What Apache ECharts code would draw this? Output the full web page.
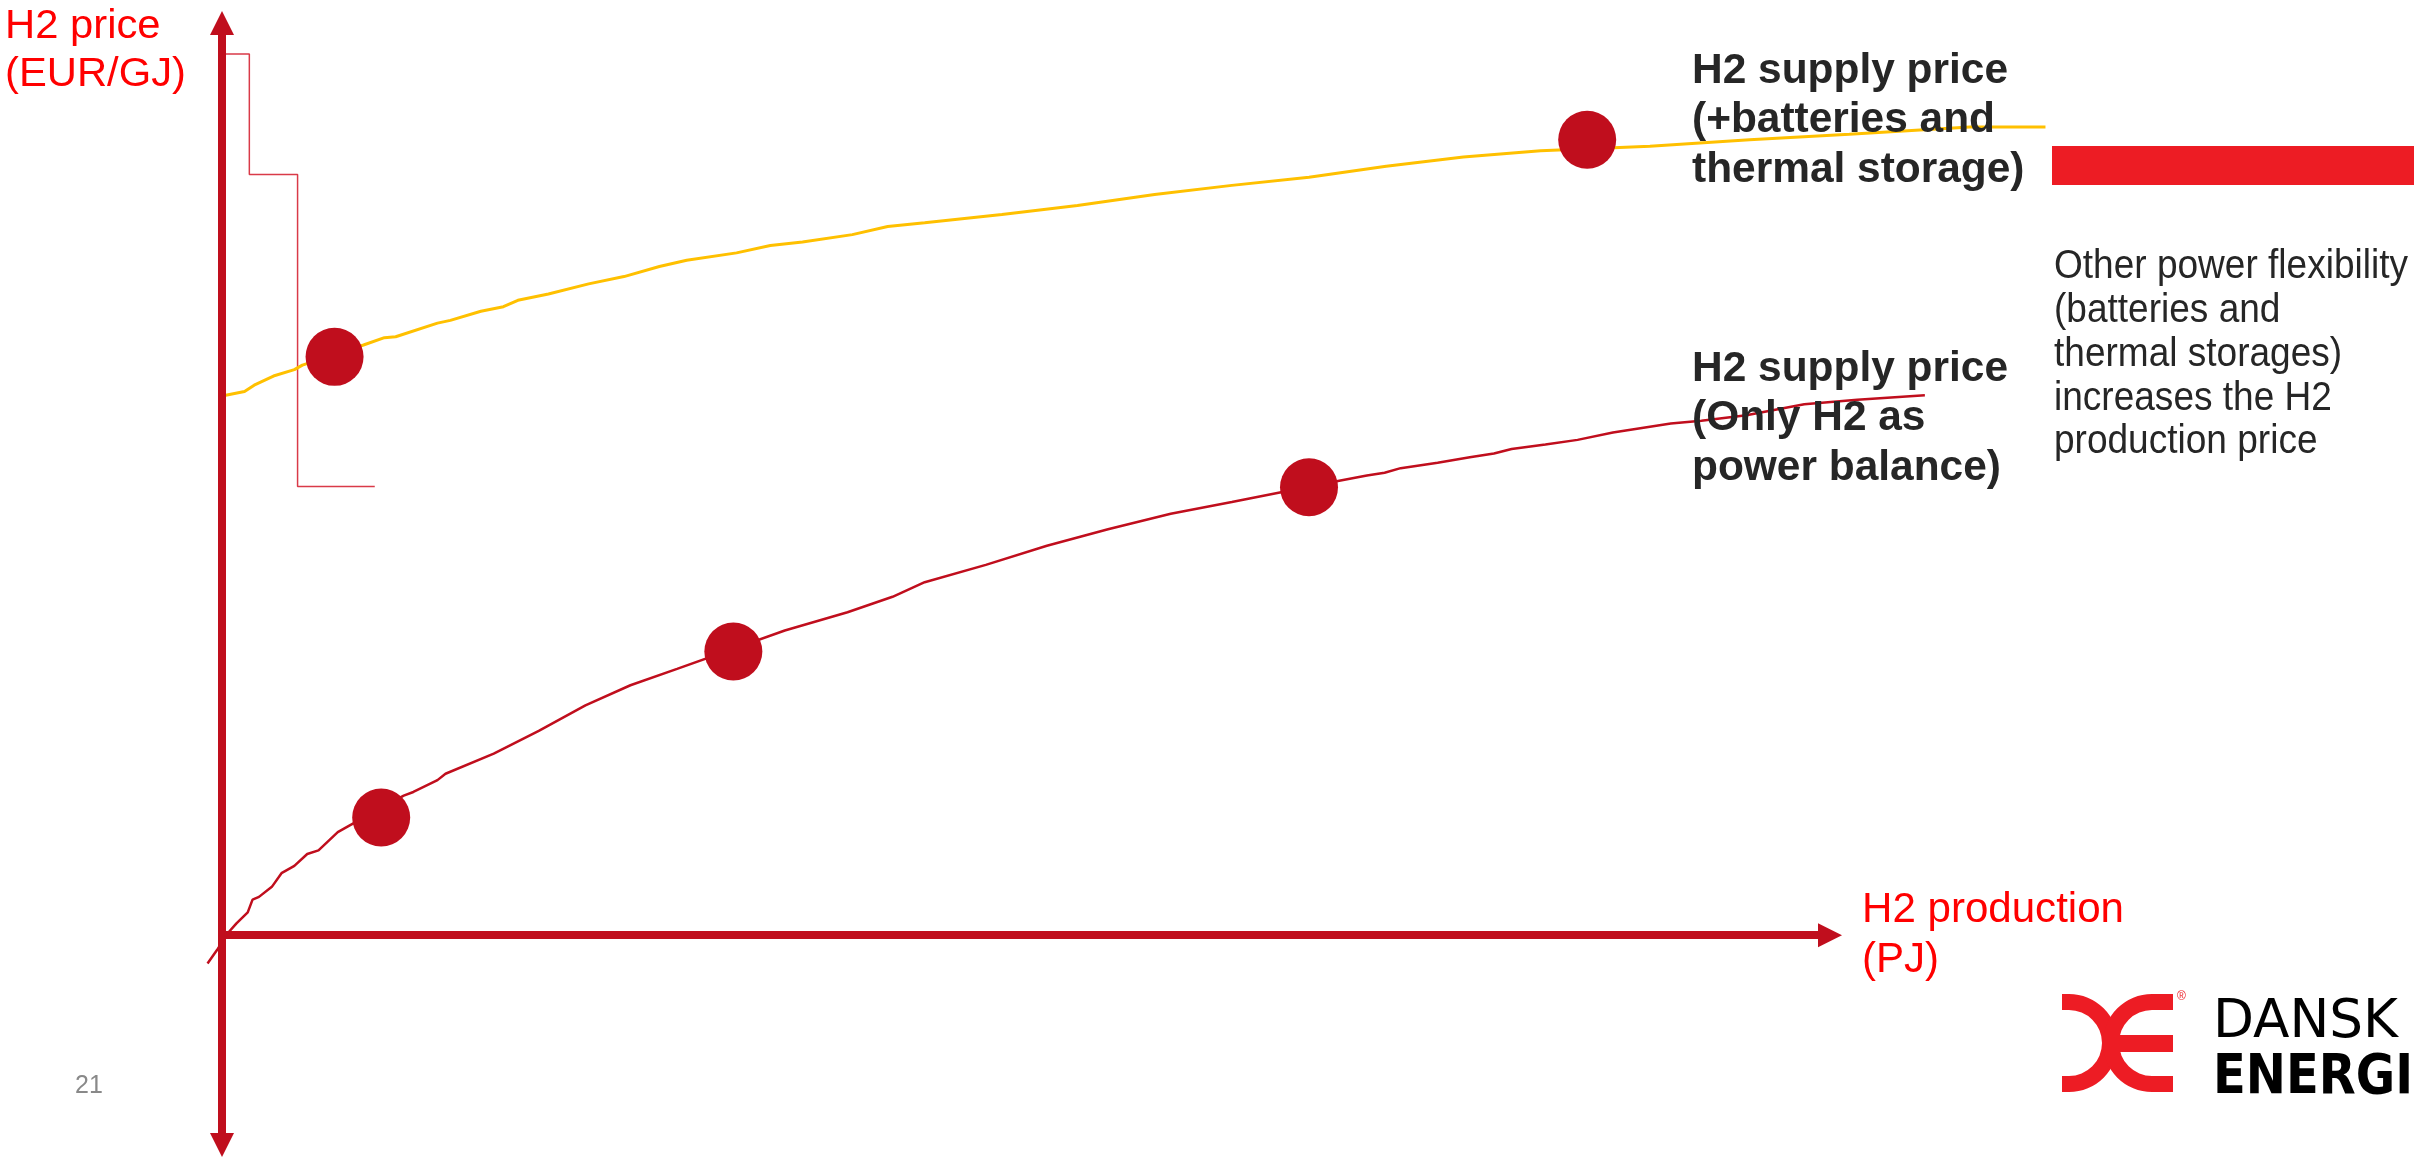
<!DOCTYPE html>
<html>
<head>
<meta charset="utf-8">
<script src="https://cdn.jsdelivr.net/npm/echarts@6/dist/echarts.min.js"></script>
<style>
html,body{margin:0;padding:0;background:#fff;}
#chart{width:2414px;height:1157px;}
</style>
</head>
<body>
<div id="chart"></div>
<script>
// ---- data (arbitrary units: x = H2 production, y = H2 price) ----
const storageCurve = [
  [0, 59.1], [1.4, 59.6], [2.0, 60.3], [3.2, 61.3], [4.5, 62.0], [5.0, 62.5], [8.8, 64.7],
  [10.1, 65.5], [10.8, 65.6], [13.4, 67.1], [14.2, 67.4], [16.1, 68.4], [17.5, 68.9],
  [18.4, 69.6], [20.3, 70.3], [22.8, 71.4], [25.0, 72.2], [27.2, 73.3], [28.9, 74.0],
  [32.0, 74.8], [34.1, 75.6], [36.1, 76.0], [39.2, 76.8], [41.4, 77.7], [43.7, 78.1],
  [48.5, 79.0], [53.2, 80.0], [58.0, 81.2], [62.8, 82.2], [67.6, 83.1], [72.4, 84.3],
  [77.2, 85.3], [82.0, 86.0], [88.8, 86.5], [95.0, 87.2], [101.2, 87.8], [108.7, 88.6], [113.4, 88.6]
];
const h2OnlyCurve = [
  [-0.9, -3.1], [-0.3, -1.6], [0.3, 0.1], [0.9, 1.3], [1.6, 2.5], [1.9, 3.9], [2.3, 4.2],
  [3.1, 5.3], [3.7, 6.8], [4.5, 7.6], [5.3, 8.9], [6.0, 9.3], [7.2, 11.3], [8.0, 12.1],
  [11.3, 15.3], [11.9, 15.7], [13.4, 17.0], [13.9, 17.7], [16.9, 19.9], [19.7, 22.4],
  [22.6, 25.2], [25.4, 27.4], [28.3, 29.2], [35.0, 33.4], [38.9, 35.4], [41.7, 37.1],
  [43.7, 38.7], [47.5, 40.6], [51.3, 42.7], [55.1, 44.5], [59.0, 46.2], [62.8, 47.5],
  [69.4, 49.8], [71.2, 50.4], [72.3, 50.7], [73.3, 51.2], [75.6, 51.8], [77.6, 52.4],
  [79.1, 52.8], [80.2, 53.3], [82.3, 53.8], [84.3, 54.3], [86.5, 55.1], [90.1, 56.1],
  [92.0, 56.4], [94.8, 57.0], [98.4, 58.2], [101.7, 58.7], [105.9, 59.2]
];
const storageDots = [[7.0, 63.4], [84.9, 87.2]];
const h2OnlyDots = [[9.9, 12.9], [31.8, 31.1], [67.6, 49.1]];
const meritOrderStep = [[0, 96.6], [1.7, 96.6], [1.7, 83.4], [4.7, 83.4], [4.7, 49.2], [9.5, 49.2]];

const xAxisRange = [0, 100];     // visible arrow axis
const xDataRange = [-2, 116];    // same scale, wider window so curves can run past the arrow
const yRange = [-23, 100];

const yAxisTitle = 'H2 price\n(EUR/GJ)';
const xAxisTitle = 'H2 production\n(PJ)';
const storageLabel = 'H2 supply price\n(+batteries and\nthermal storage)';
const h2OnlyLabel = 'H2 supply price\n(Only H2 as\npower balance)';
const noteText = 'Other power flexibility\n(batteries and\nthermal storages)\nincreases the H2\nproduction price';
const pageNumber = '21';

// ---- styling ----
const AXIS_RED = '#C00E1D';
const BRIGHT_RED = '#ED1C24';
const FONT = '"Liberation Sans", Arial, Helvetica, sans-serif';
const LOGO_FONT = '"DejaVu Sans", sans-serif';

const mctx = document.createElement('canvas').getContext('2d');
function fitScale(text, size, weight, family, target) {
  mctx.font = weight + ' ' + size + 'px ' + family;
  return target / mctx.measureText(text).width;
}
function textEl(x, y, text, size, weight, color, lh, scaleX, family) {
  return {
    type: 'text', x: x, y: y, scaleX: scaleX || 1, silent: true, z: 20,
    style: {
      text: text, fill: color, fontSize: size, fontWeight: weight,
      fontFamily: family || FONT, lineHeight: lh,
      align: 'left', verticalAlign: 'top', textAlign: 'left', textVerticalAlign: 'top'
    }
  };
}

const sRed = fitScale('(EUR/GJ)', 41, 'normal', FONT, 181);
const sBold = fitScale('H2 supply price', 42, 'bold', FONT, 316);
const sProd = fitScale('H2 production', 42, 'normal', FONT, 262);
const sNote = fitScale('Other power flexibility', 41, 'normal', FONT, 354);
const sDansk = fitScale('DANSK', 54, 'normal', LOGO_FONT, 185);
const sEnergi = fitScale('ENERGI', 56, 'bold', LOGO_FONT, 200);

// grid geometry (px): the visible axes, and a wider data grid on the identical scale
const AX_LEFT = 222, AX_RIGHT_EDGE = 1830, TOP = 23, BOTTOM = 12;
const pxPerX = (AX_RIGHT_EDGE - AX_LEFT) / (xAxisRange[1] - xAxisRange[0]);
const dataLeft = AX_LEFT + (xDataRange[0] - xAxisRange[0]) * pxPerX;
const dataRightEdge = AX_LEFT + (xDataRange[1] - xAxisRange[0]) * pxPerX;

const chart = echarts.init(document.getElementById('chart'), null, {renderer: 'canvas'});

const axisLineCommon = {
  show: true, onZero: true,
  lineStyle: {color: AXIS_RED, width: 8, cap: 'butt'},
  symbolSize: [24, 24]
};
const hiddenAxis = {
  axisLine: {show: false}, axisTick: {show: false}, axisLabel: {show: false}, splitLine: {show: false}
};

const option = {
  animation: false,
  backgroundColor: '#ffffff',
  textStyle: {fontFamily: FONT},
  grid: [
    {left: AX_LEFT, right: 2414 - AX_RIGHT_EDGE, top: TOP, bottom: BOTTOM},
    {left: dataLeft, right: 2414 - dataRightEdge, top: TOP, bottom: BOTTOM}
  ],
  xAxis: [
    Object.assign({type: 'value', gridIndex: 0, min: xAxisRange[0], max: xAxisRange[1], z: 10,
      axisTick: {show: false}, axisLabel: {show: false}, splitLine: {show: false}},
      {axisLine: Object.assign({}, axisLineCommon, {symbol: ['none', 'triangle']})}),
    Object.assign({type: 'value', gridIndex: 1, min: xDataRange[0], max: xDataRange[1]}, hiddenAxis)
  ],
  yAxis: [
    Object.assign({type: 'value', gridIndex: 0, min: yRange[0], max: yRange[1], z: 10,
      axisTick: {show: false}, axisLabel: {show: false}, splitLine: {show: false}},
      {axisLine: Object.assign({}, axisLineCommon, {symbol: ['triangle', 'triangle']})}),
    Object.assign({type: 'value', gridIndex: 1, min: yRange[0], max: yRange[1]}, hiddenAxis)
  ],
  series: [
    {
      name: 'step', type: 'line', xAxisIndex: 1, yAxisIndex: 1, data: meritOrderStep,
      symbol: 'none', z: 1, lineStyle: {color: '#D93A48', width: 1.5}, silent: true
    },
    {
      name: 'storage', type: 'line', xAxisIndex: 1, yAxisIndex: 1, data: storageCurve,
      symbol: 'none', z: 2, lineStyle: {color: '#FFC000', width: 3}, silent: true
    },
    {
      name: 'h2only', type: 'line', xAxisIndex: 1, yAxisIndex: 1, data: h2OnlyCurve,
      symbol: 'none', z: 2, lineStyle: {color: AXIS_RED, width: 2.5}, silent: true
    },
    {
      name: 'dots', type: 'scatter', xAxisIndex: 1, yAxisIndex: 1,
      data: storageDots.concat(h2OnlyDots), symbol: 'circle',
      symbolSize: 58, z: 5, itemStyle: {color: AXIS_RED, opacity: 1}, silent: true
    }
  ],
  graphic: [
    textEl(5, 3, yAxisTitle, 41, 'normal', '#FF0000', 48, sRed),
    textEl(1862, 885, xAxisTitle, 42, 'normal', '#FF0000', 50, sProd),
    textEl(1692, 46.5, storageLabel, 42, 'bold', '#262626', 49.5, sBold),
    textEl(1692, 344.5, h2OnlyLabel, 42, 'bold', '#262626', 49.5, sBold),
    textEl(2054, 245, noteText, 41, 'normal', '#262626', 43.8, sNote),
    textEl(75, 1073, pageNumber, 25, 'normal', '#898989', 26, 1),
    {type: 'rect', silent: true, z: 20, shape: {x: 2052, y: 146, width: 362, height: 39}, style: {fill: BRIGHT_RED}},
    // logo
    {type: 'sector', silent: true, z: 20, shape: {cx: 2069, cy: 1043, r: 49, r0: 33, startAngle: -Math.PI / 2, endAngle: Math.PI / 2, clockwise: true}, style: {fill: BRIGHT_RED}},
    {type: 'rect', silent: true, z: 20, shape: {x: 2062, y: 994, width: 8, height: 16}, style: {fill: BRIGHT_RED}},
    {type: 'rect', silent: true, z: 20, shape: {x: 2062, y: 1076, width: 8, height: 16}, style: {fill: BRIGHT_RED}},
    {type: 'sector', silent: true, z: 20, shape: {cx: 2152, cy: 1043, r: 49, r0: 33, startAngle: Math.PI / 2, endAngle: Math.PI * 1.5, clockwise: true}, style: {fill: BRIGHT_RED}},
    {type: 'rect', silent: true, z: 20, shape: {x: 2151, y: 994, width: 22, height: 16}, style: {fill: BRIGHT_RED}},
    {type: 'rect', silent: true, z: 20, shape: {x: 2151, y: 1076, width: 22, height: 16}, style: {fill: BRIGHT_RED}},
    {type: 'rect', silent: true, z: 20, shape: {x: 2118, y: 1035, width: 55, height: 17}, style: {fill: BRIGHT_RED}},
    textEl(2177, 991, '®', 12, 'normal', BRIGHT_RED, 12, 1),
    textEl(2213, 996, 'DANSK', 54, 'normal', '#000000', 54, sDansk, LOGO_FONT),
    textEl(2213, 1050, 'ENERGI', 56, 'bold', '#000000', 56, sEnergi, LOGO_FONT)
  ]
};
chart.setOption(option);
</script>
</body>
</html>
